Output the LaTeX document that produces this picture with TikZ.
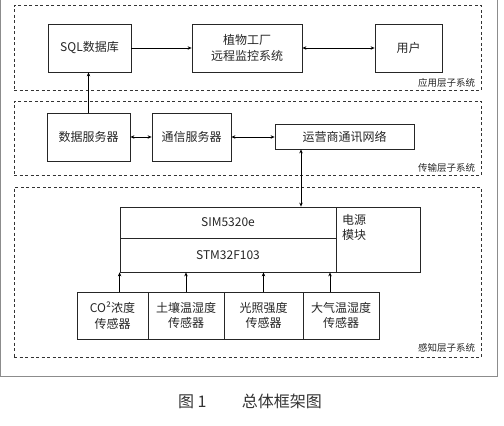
\documentclass[tikz,border=0pt]{standalone}
\usepackage{fontspec}
\setmainfont{Noto Sans CJK SC}
\usepackage{tikz}
\usetikzlibrary{arrows.meta, positioning}
\usepackage{xcolor}

\tikzset{
  box/.style={draw=black!85, line width=0.8pt, align=center, inner sep=0pt,
    font=\fontsize{12}{15.5}\selectfont, text=black!85},
  layerbox/.style={draw=black!80, line width=0.8pt, dash pattern=on 3pt off 2.5pt, inner sep=0pt},
  layerlbl/.style={font=\fontsize{9.5}{11}\selectfont, text=black!85, inner sep=0pt},
}

\begin{document}
\begin{tikzpicture}[x=1pt, y=-1pt, >={Stealth[length=4pt, width=3.5pt]}, line width=0.7pt]
    \useasboundingbox (0,0) rectangle (504,426);
    % outer frame
    \draw[black!45, line width=1pt] (0.5,0) -- (0.5,376.5) -- (497,376.5) -- (497,0);

    % layers
    \node (app)   [layerbox, minimum width=467, minimum height=85]  at (247.5,47.5) {};
    \node (trans) [layerbox, minimum width=467, minimum height=74]  at (247.5,138) {};
    \node (sense) [layerbox, minimum width=467, minimum height=170] at (247.5,272) {};
    \node (appL)   [layerlbl, anchor=south east] at ([shift={(-6,-3)}]app.south east) {应用层子系统};
    \node (transL) [layerlbl, anchor=south east] at ([shift={(-6,-3)}]trans.south east) {传输层子系统};
    \node (senseL) [layerlbl, anchor=south east] at ([shift={(-6,-5)}]sense.south east) {感知层子系统};

    % application layer
    \node (sql)     [box, minimum width=83, minimum height=48]  at (89.5,48) {SQL数据库};
    \node (monitor) [box, minimum width=110, minimum height=48] at (247,48) {植物工厂\\远程监控系统};
    \node (user)    [box, minimum width=67, minimum height=48]  at (408.5,48) {用户};

    % transport layer
    \node (dataserv) [box, minimum width=83, minimum height=48]  at (88.5,137) {数据服务器};
    \node (commserv) [box, minimum width=79, minimum height=48]  at (191.5,137) {通信服务器};
    \node (network)  [box, minimum width=139, minimum height=25] at (344.5,136.5) {运营商通讯网络};

    % perception layer
    \node (sim)   [box, minimum width=216, minimum height=31] at (228,222.5) {SIM5320e};
    \node (stm)   [box, minimum width=216, minimum height=34] at (228,255) {STM32F103};
    \node (power) [box, minimum width=84, minimum height=65]  at (378,239.5) {};
    \node (powerL) [box, draw=none, align=left, anchor=north west] at ([shift={(6,7)}]power.north west) {电源\\模块};
    \node (co2)   [box, minimum width=71, minimum height=47] at (112.5,315.5) {CO²浓度\\传感器};
    \node (soil)  [box, minimum width=76, minimum height=47] at (186,315.5) {土壤温湿度\\传感器};
    \node (light) [box, minimum width=79, minimum height=47] at (263.5,315.5) {光照强度\\传感器};
    \node (air)   [box, minimum width=76, minimum height=47] at (341,315.5) {大气温湿度\\传感器};

    \coordinate (up) at (301,0);
    \coordinate (airup) at (330,0);

    \draw[->] (sql) -- (monitor);
    \draw[<->] (monitor) -- (user);
    \draw[->] (dataserv.north) -- (dataserv.north |- sql.south);
    \draw[<->] (dataserv) -- (commserv);
    \draw[<->] (commserv) -- (commserv -| network.west);
    \draw[<->] (sim.north -| up) -- (network.south -| up);
    \draw[->] (co2.north -| stm.south west) -- (stm.south west);
    \draw[->] (soil.north) -- (soil.north |- stm.south);
    \draw[->] (light.north) -- (light.north |- stm.south);
    \draw[->] (air.north -| airup) -- (stm.south -| airup);

    % caption
    \node (caption) [font=\fontsize{16}{19}\selectfont, text=black!80] at (250,401) {图 1\hspace{2.2em}总体框架图};
\end{tikzpicture}
\end{document}
